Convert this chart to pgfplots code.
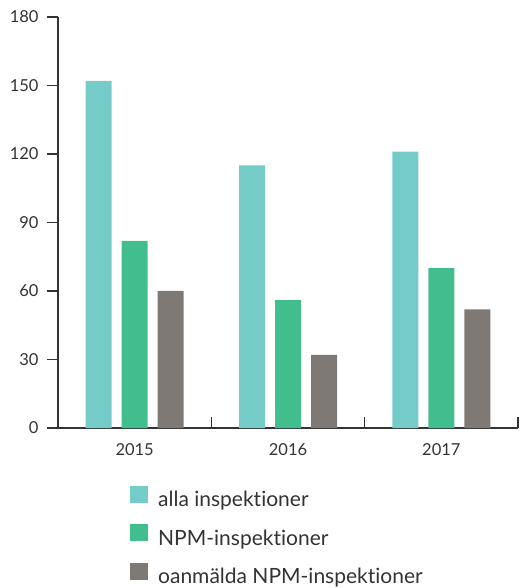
\documentclass[border=0pt]{standalone}
\usepackage{pgfplots}
\pgfplotsset{compat=1.18}
\usepackage{fontspec}
\setmainfont{Lato}[Ligatures=NoCommon]
\definecolor{alla}{HTML}{74CBC8}
\definecolor{npm}{HTML}{42BD8E}
\definecolor{oan}{HTML}{7F7975}
\definecolor{txt}{HTML}{333333}
\begin{document}
\begin{tikzpicture}
\begin{axis}[
    name=ax,
    scale only axis,
    width=460pt, height=411pt,
    ymin=0, ymax=180,
    ytick={0,30,...,180},
    xmin=-0.5, xmax=2.5,
    xtick={-0.5,0.5,1.5,2.5},
    xticklabels={2015,2016,2017},
    x tick label as interval,
    axis x line*=bottom,
    axis y line*=left,
    axis line style={txt, line width=1.1pt},
    major tick length=11pt,
    tick align=outside,
    tick style={txt, line width=1.1pt},
    xtick style={yshift=11pt},
    ticklabel style={font=\fontsize{16.5}{19}\selectfont, text=txt},
    yticklabel style={xshift=-5pt},
    xticklabel style={yshift=-1pt},
    /pgf/number format/assume math mode=true,
    ybar=10pt, bar width=26pt,
    legend style={at={(axis description cs:0.1565,-0.14)}, anchor=north west,
        draw=none, inner sep=0pt, row sep=14pt,
        font=\fontsize{21}{25}\selectfont, text=txt,
        legend cell align=left,
        /tikz/every odd column/.append style={column sep=8pt}},
    legend image code/.code={\fill[#1] (0pt,-3pt) rectangle (18pt,14pt);},
]
\addplot[fill=alla, draw=none] coordinates {(0,152) (1,115) (2,121)};
\addplot[fill=npm, draw=none] coordinates {(0,82) (1,56) (2,70)};
\addplot[fill=oan, draw=none] coordinates {(0,60) (1,32) (2,52)};
\legend{alla inspektioner, NPM-inspektioner, oanmälda NPM-inspektioner}
\end{axis}
\path (ax.south west) ++(-58pt,-160pt) rectangle ++(527pt,588pt);
\end{tikzpicture}
\end{document}
